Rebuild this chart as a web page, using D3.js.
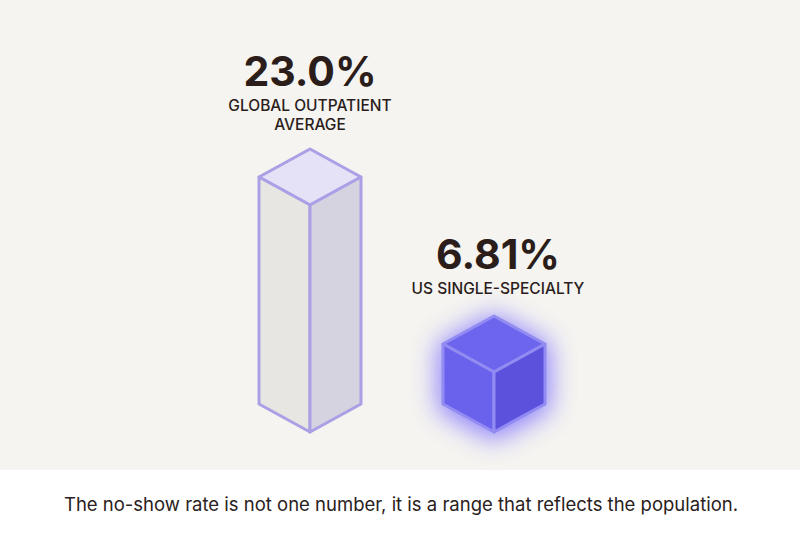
<!DOCTYPE html>
<html>
<head>
<meta charset="utf-8">
<script src="https://cdn.jsdelivr.net/npm/d3@7"></script>
<style>
  html, body { margin: 0; padding: 0; background: #ffffff; }
  svg { display: block; }
</style>
</head>
<body>
<svg id="chart"></svg>
<script>
// data
var categories = ["GLOBAL OUTPATIENT|AVERAGE", "US SINGLE-SPECIALTY"];
var values = [23.0, 6.81];
var valueLabels = ["23.0%", "6.81%"];
var caption = "The no-show rate is not one number, it is a range that reflects the population.";

var W = 800, H = 537;
var baseY = 432;   // bottom vertex of the prisms
var halfW = 51, dip = 28;

var svg = d3.select("#chart").attr("width", W).attr("height", H);

svg.append("rect").attr("x", 0).attr("y", 0).attr("width", W).attr("height", 470)
  .attr("fill", "#f5f4f0");
svg.append("rect").attr("x", 0).attr("y", 470).attr("width", W).attr("height", H - 470)
  .attr("fill", "#ffffff");

var defs = svg.append("defs");
var glow = defs.append("filter").attr("id", "glow")
  .attr("x", "-80%").attr("y", "-80%").attr("width", "260%").attr("height", "260%");
glow.append("feGaussianBlur").attr("stdDeviation", 13);

var x = d3.scalePoint().domain(categories).range([310, 494]);
var h = d3.scaleLinear().domain([1, 23]).range([0, 227]);

var styles = [
  { top: "#e5e1f6", left: "#e7e6e2", right: "#d6d3e1", stroke: "#ab9fe6", glow: null },
  { top: "#6d65ee", left: "#6a62ec", right: "#5b51dd", stroke: "#928bf2", glow: "#7466ff" }
];

categories.forEach(function (c, i) {
  var cx = x(c);
  var hh = h(values[i]);
  var st = styles[i];
  var bY = baseY;          // bottom front vertex
  var mY = bY - hh;        // front vertex top
  var tY = mY - 2 * dip;   // top back vertex
  var g = svg.append("g");

  var outline = [[cx, tY], [cx + halfW, tY + dip], [cx + halfW, bY - dip], [cx, bY],
                 [cx - halfW, bY - dip], [cx - halfW, tY + dip]];
  if (st.glow) {
    g.append("polygon").attr("points", outline.map(function (p) { return p.join(","); }).join(" "))
      .attr("fill", st.glow).attr("stroke", st.glow).attr("stroke-width", 10)
      .attr("opacity", 0.8).attr("filter", "url(#glow)")
      .attr("transform", "translate(0,3)");
  }

  var faces = [
    { pts: [[cx, tY], [cx + halfW, tY + dip], [cx, mY], [cx - halfW, tY + dip]], fill: st.top },
    { pts: [[cx - halfW, tY + dip], [cx, mY], [cx, bY], [cx - halfW, bY - dip]], fill: st.left },
    { pts: [[cx, mY], [cx + halfW, tY + dip], [cx + halfW, bY - dip], [cx, bY]], fill: st.right }
  ];
  g.selectAll("polygon.face").data(faces).join("polygon")
    .attr("class", "face")
    .attr("points", function (d) { return d.pts.map(function (p) { return p.join(","); }).join(" "); })
    .attr("fill", function (d) { return d.fill; })
    .attr("stroke", st.stroke)
    .attr("stroke-width", 3)
    .attr("stroke-linejoin", "round");

  // labels
  var lines = c.split("|");
  var labelX = cx + (i === 1 ? 4 : 0);
  var lastBase = tY - 19 - (i === 1 ? 3 : 0);
  var lh = 19.5;
  lines.forEach(function (t, j) {
    svg.append("text")
      .attr("x", labelX)
      .attr("y", lastBase - (lines.length - 1 - j) * lh)
      .attr("text-anchor", "middle")
      .attr("font-family", "Inter, 'Noto Sans', sans-serif")
      .attr("font-size", 15.5)
      .attr("font-weight", 500)
      .attr("fill", "#2a1d1b")
      .text(t);
  });
  svg.append("text")
    .attr("x", labelX)
    .attr("y", lastBase - (lines.length - 1) * lh - 25)
    .attr("text-anchor", "middle")
    .attr("font-family", "Inter, 'Noto Sans', sans-serif")
    .attr("font-size", 41)
    .attr("font-weight", 700)
    .attr("fill", "#2b1d1a")
    .text(valueLabels[i]);
});

svg.append("text")
  .attr("x", 401)
  .attr("y", 511)
  .attr("text-anchor", "middle")
  .attr("font-family", "Inter, 'Noto Sans', sans-serif")
  .attr("font-size", 18.5)
  .attr("fill", "#2a2120")
  .text(caption);
</script>
</body>
</html>
